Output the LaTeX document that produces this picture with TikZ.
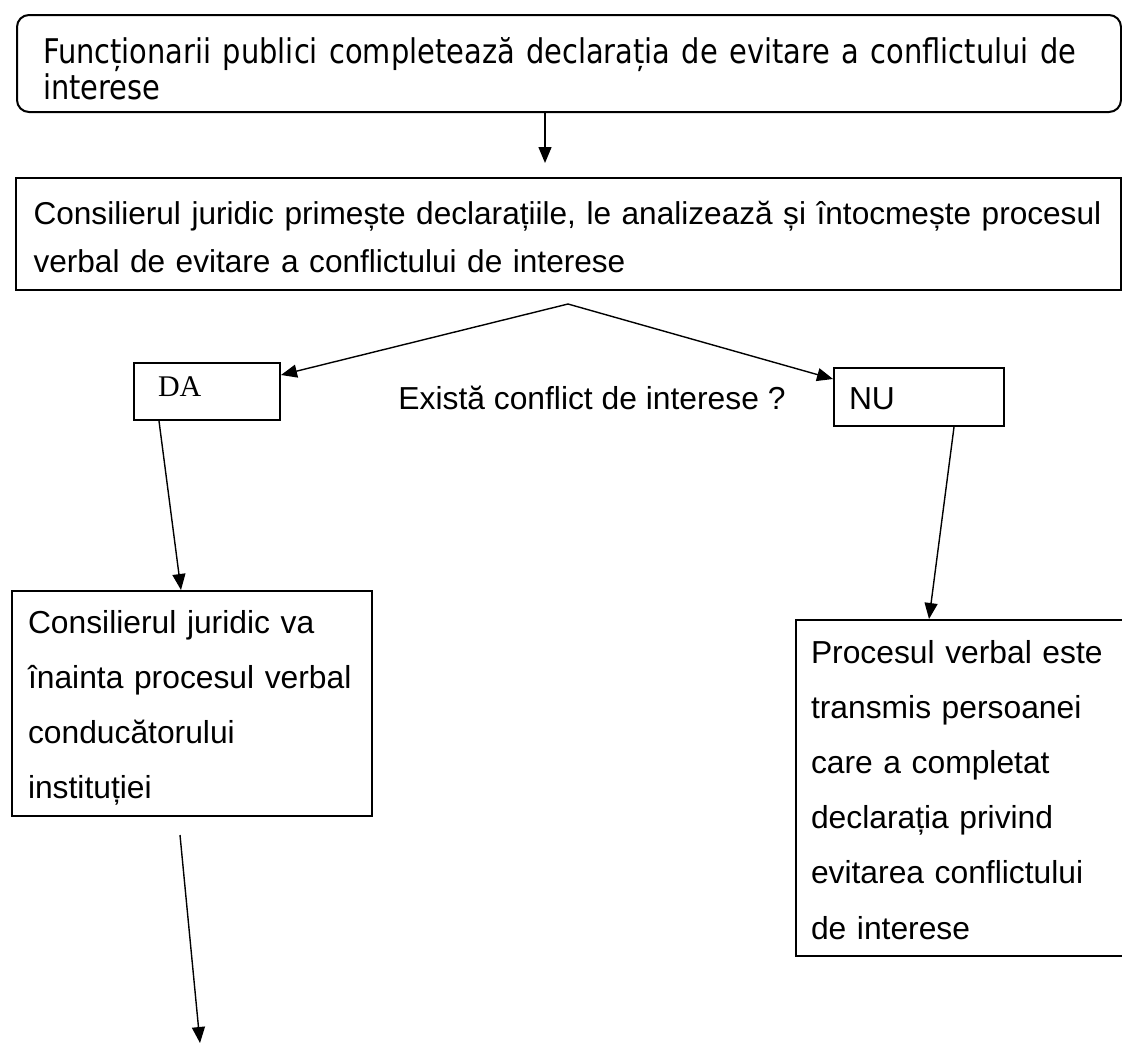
\documentclass[tikz,border=0pt]{standalone}
\usepackage{fontspec}
\setmainfont{Liberation Sans}
\newfontfamily\daserif{Liberation Serif}
\newfontfamily\declfont[FakeStretch=0.85]{DejaVu Sans}
\usetikzlibrary{arrows.meta,positioning,calc}

\begin{document}
\begin{tikzpicture}[x=0.5pt,y=-0.5pt,
    box/.style={draw,line width=1pt,inner sep=0pt,align=left,anchor=north west},
    arr/.style={line width=0.7pt,-{Triangle[length=8pt,width=6.5pt]}},
    txt/.style={font=\fontsize{15.9}{27.6}\selectfont}]
  \useasboundingbox (0,0) rectangle (1122,1045);
  % declaration and analysis
  \node[box,rounded corners=6pt,minimum width=552pt,text width=526pt,
        text height=24pt,text depth=24.5pt,
        font=\declfont\fontsize{17}{15}\selectfont] (decl) at (16,14)
        {\mbox{Funcționarii publici completează declarația de evitare a conflictului de}\\interese};
  \node[box,minimum width=552.5pt,text width=535pt,text height=23pt,text depth=33pt,
        font=\fontsize{15.8}{24}\selectfont] (legal) at (15,177)
        {\mbox{Consilierul juridic primește declarațiile, le analizează și întocmește procesul}\\verbal de evitare a conflictului de interese};
  % decision
  \node[box,minimum width=73pt,text width=49pt,text height=16.5pt,text depth=12pt,
        font=\daserif\fontsize{15}{18}\selectfont] (da) at (133,362) {DA};
  \node[txt] (q) at (592,398) {Există conflict de interese ?};
  \node[box,txt,minimum width=85pt,text width=70pt,text height=20.5pt,text depth=8.5pt] (nu) at (833,367) {NU};
  % outcomes
  \node[box,txt,minimum width=180pt,text width=164pt,text height=21pt,text depth=91.5pt] (adv) at (11,590)
        {Consilierul juridic va\\înainta procesul verbal\\conducătorului\\instituției};
  \node[box,txt,minimum width=165.5pt,text width=150.5pt,text height=21.5pt,text depth=146.5pt] (sent) at (795,619)
        {Procesul verbal este\\transmis persoanei\\care a completat\\declarația privind\\evitarea conflictului\\de interese};
  \coordinate (t1) at (545,163);
  \coordinate (split) at (568,304);
  \coordinate (next) at (200,1043);
  \draw[arr] (decl.south -| t1) -- (t1);
  \draw[arr] (split) -- ([yshift=-6.5pt]da.north east);
  \draw[arr] (split) -- ([yshift=-6pt]nu.north west);
  \draw[arr] ([xshift=-24pt]da.south) -- ([xshift=-5.5pt]adv.north);
  \draw[arr] ([xshift=17.5pt]nu.south) -- ([xshift=-16.25pt]sent.north);
  \draw[arr] ([xshift=-6pt,yshift=-9pt]adv.south) -- (next);
\end{tikzpicture}
\end{document}
